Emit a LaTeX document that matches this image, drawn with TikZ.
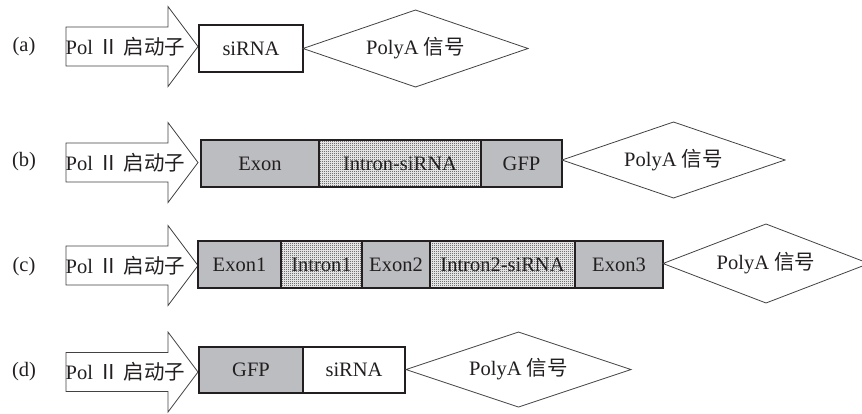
\documentclass[tikz,border=0pt]{standalone}
\usepackage{fontspec}
\setmainfont{Liberation Serif}
\newfontfamily\cjk{Noto Sans CJK SC}
\usetikzlibrary{shapes.geometric,patterns}
\pgfdeclarepatternformonly{finechk}{\pgfpointorigin}{\pgfpoint{2pt}{2pt}}{\pgfpoint{2pt}{2pt}}{%
  \pgfpathrectangle{\pgfpointorigin}{\pgfpoint{1pt}{1pt}}%
  \pgfpathrectangle{\pgfpoint{1pt}{1pt}}{\pgfpoint{1pt}{1pt}}%
  \pgfusepath{fill}}
\definecolor{exongray}{RGB}{188,189,192}
\definecolor{ink}{RGB}{35,31,32}
\newcommand\promarrow[2]{%
  \begin{scope}[yshift=-#2pt]
    \draw[promoter] (66,19.5) -- (168,19.5) -- (168,40) -- (198,0) -- (168,-40) -- (168,-19.5) -- (66,-19.5) -- cycle;
    \node[ptext] (#1) at (125.5,0) {Pol {\cjk Ⅱ} {\cjk 启动子}};
  \end{scope}}
\begin{document}
\begin{tikzpicture}[x=1pt,y=1pt,
  every node/.style={font=\fontsize{20.5}{24}\selectfont, text=ink},
  promoter/.style={draw=ink!85, line width=0.8pt, fill=white},
  ptext/.style={inner sep=0pt},
  segbox/.style={draw=ink, line width=1.3pt, minimum height=47pt, inner sep=0pt, outer sep=0pt},
  wbox/.style={segbox, fill=white},
  gbox/.style={segbox, fill=exongray},
  hbox/.style={segbox, preaction={fill=white}, pattern=finechk, pattern color=black!85},
  polya/.style={diamond, aspect=3, draw=ink!85, line width=0.8pt, inner sep=0pt, outer sep=0pt, fill=white},
  lab/.style={inner sep=0pt}
]
\useasboundingbox (0,0) rectangle (862,-413);

% (a)
\node[lab] (la) at (24,-46.5) {(a)};
\promarrow{pa}{46.5}
\node[wbox, minimum width=104pt] (a1) at (251,-48.5) {siRNA};
\node[polya, minimum width=225pt, minimum height=77pt] (ya) at (415.5,-48.5) {PolyA {\cjk 信号}};

% (b)
\node[lab] (lb) at (24,-162) {(b)};
\promarrow{pb}{162.5}
\node[gbox, minimum width=118pt] (b1) at (260,-163.5) {Exon};
\node[hbox, minimum width=162pt] (b2) at (400,-163.5) {Intron-siRNA};
\node[gbox, minimum width=81pt] (b3) at (521.5,-163.5) {GFP};
\node[polya, minimum width=223pt, minimum height=76pt] (yb) at (673.5,-160) {PolyA {\cjk 信号}};

% (c)
\node[lab] (lc) at (24,-266.5) {(c)};
\promarrow{pc}{265.5}
\node[gbox, minimum width=83pt] (c1) at (239.5,-264.5) {Exon1};
\node[hbox, minimum width=81pt] (c2) at (321.5,-264.5) {Intron1};
\node[gbox, minimum width=68pt] (c3) at (396,-264.5) {Exon2};
\node[hbox, minimum width=145pt] (c4) at (502.5,-264.5) {Intron2-siRNA};
\node[gbox, minimum width=88pt] (c5) at (619,-264.5) {Exon3};
\node[polya, minimum width=206pt, minimum height=79pt] (yc) at (766,-263.5) {PolyA {\cjk 信号}};

% (d)
\node[lab] (ld) at (24,-371.5) {(d)};
\promarrow{pd}{372}
\node[gbox, minimum width=104pt, minimum height=46pt] (d1) at (251,-370) {GFP};
\node[wbox, minimum width=102pt, minimum height=46pt] (d2) at (354,-370) {siRNA};
\node[polya, minimum width=225pt, minimum height=75pt] (yd) at (518.5,-369.5) {PolyA {\cjk 信号}};
\end{tikzpicture}
\end{document}
